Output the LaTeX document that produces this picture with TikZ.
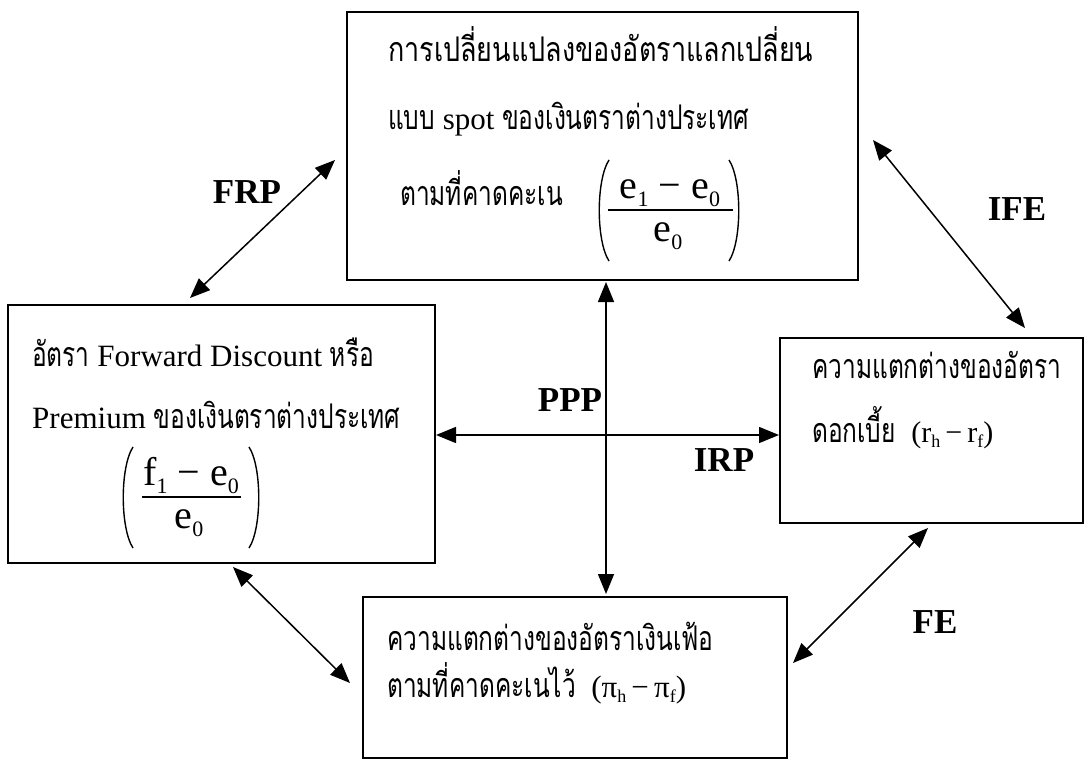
\documentclass[tikz,border=0pt]{standalone}
\usepackage{fontspec}
\usepackage{graphicx}
\setmainfont{Liberation Serif}
\newfontfamily\thaifont[Script=Thai,FakeStretch=0.72]{Loma}
\usetikzlibrary{arrows.meta}
\newcommand\tht[1]{{\fontsize{34}{38}\selectfont\thaifont #1}}
\newcommand\sbx[1]{\raisebox{-0.45ex}{\fontsize{22}{22}\selectfont #1}}
\newcommand\sbs[1]{\raisebox{-0.4ex}{\fontsize{18}{18}\selectfont #1}}
\begin{document}
\begin{tikzpicture}[x=1pt,y=-1pt,
  box/.style={draw,line width=1.8pt,inner sep=0pt},
  txt/.style={anchor=base west,inner sep=0pt,font=\fontsize{31}{36}\selectfont},
  frac/.style={anchor=base,inner sep=0pt,font=\fontsize{40}{44}\selectfont},
  lbl/.style={anchor=center,inner sep=0pt,font=\fontsize{35}{40}\selectfont\bfseries},
  dbl/.style={line width=1.5pt,{Triangle[length=20pt,width=16pt]}-{Triangle[length=20pt,width=16pt]}},
  paren/.style={line width=1.4pt},
  bar/.style={line width=1.3pt}]
\useasboundingbox (0,0) rectangle (1086,762);
\fill[white] (0,0) rectangle (1086,762);

% boxes
\node[box,minimum width=511pt,minimum height=268pt] (top) at (602.5,146) {};
\node[box,minimum width=427pt,minimum height=258pt] (left) at (221.5,434) {};
\node[box,minimum width=303pt,minimum height=185pt] (right) at (931.5,430.5) {};
\node[box,minimum width=424pt,minimum height=161pt] (bottom) at (575,677.5) {};

% top box text
\node[txt] (t1) at (388,62) {\resizebox{425pt}{\height}{\tht{การเปลี่ยนแปลงของอัตราแลกเปลี่ยน}}};
\node[txt] (t2) at (388,130) {\tht{แบบ} spot \tht{ของเงินตราต่างประเทศ}};
\node[txt] (t3) at (400,205) {\tht{ตามที่คาดคะเน}};
\node[frac] (tn) at (670,198) {e\sbx{1} − e\sbx{0}};
\node[frac] (td) at (668,241) {e\sbx{0}};
\coordinate (tb1) at (608,210); \coordinate (tb2) at (733,210);
\draw[bar] (tb1) -- (tb2);
\coordinate (tp1) at (609,160); \coordinate (tp2) at (609,261);
\draw[paren] (tp1) .. controls (596,180) and (596,241) .. (tp2);
\coordinate (tq1) at (729,160); \coordinate (tq2) at (729,261);
\draw[paren] (tq1) .. controls (742,180) and (742,241) .. (tq2);

% left box text
\node[txt] (l1) at (32,366) {\tht{อัตรา} Forward Discount \tht{หรือ}};
\node[txt] (l2) at (32,428) {Premium \tht{ของเงินตราต่างประเทศ}};
\node[frac] (ln) at (191,485) {f\sbx{1} − e\sbx{0}};
\node[frac] (ld) at (189,528) {e\sbx{0}};
\coordinate (lb1) at (142,497); \coordinate (lb2) at (241,497);
\draw[bar] (lb1) -- (lb2);
\coordinate (lp1) at (133,447); \coordinate (lp2) at (133,548);
\draw[paren] (lp1) .. controls (120,467) and (120,528) .. (lp2);
\coordinate (lq1) at (249,447); \coordinate (lq2) at (249,548);
\draw[paren] (lq1) .. controls (262,467) and (262,528) .. (lq2);

% right box text
\node[txt] (r1) at (812,378) {\tht{ความแตกต่างของอัตรา}};
\node[txt] (r2) at (812,442) {\tht{ดอกเบี้ย}\ \ {\fontsize{30}{34}\selectfont(r\sbs{h}\,−\,r\sbs{f})}};

% bottom box text
\node[txt] (b1) at (387,650) {\tht{ความแตกต่างของอัตราเงินเฟ้อ}};
\node[txt] (b2) at (387,697) {\tht{ตามที่คาดคะเนไว้}\ \ {\fontsize{31}{34}\selectfont(π\sbs{h}\,−\,π\sbs{f})}};

% connector end points
\coordinate (frpA) at (335,160); \coordinate (frpB) at (190,298);
\coordinate (ifeA) at (873,140); \coordinate (ifeB) at (1025,328);
\coordinate (vA) at (606,282);  \coordinate (vB) at (606,594);
\coordinate (hA) at (436,435);  \coordinate (hB) at (779,435);
\coordinate (lbA) at (233,567); \coordinate (lbB) at (350,683);
\coordinate (feA) at (928,528); \coordinate (feB) at (793,663);

\draw[dbl] (frpA) -- (frpB);
\draw[dbl] (ifeA) -- (ifeB);
\draw[dbl] (vA) -- (vB);
\draw[dbl] (hA) -- (hB);
\draw[dbl] (lbA) -- (lbB);
\draw[dbl] (feA) -- (feB);

% labels
\node[lbl] (frp) at (247,192) {FRP};
\node[lbl] (ife) at (1017,209) {IFE};
\node[lbl] (ppp) at (570,400) {PPP};
\node[lbl] (irp) at (724,460) {IRP};
\node[lbl] (fe) at (935,622) {FE};
\end{tikzpicture}
\end{document}
